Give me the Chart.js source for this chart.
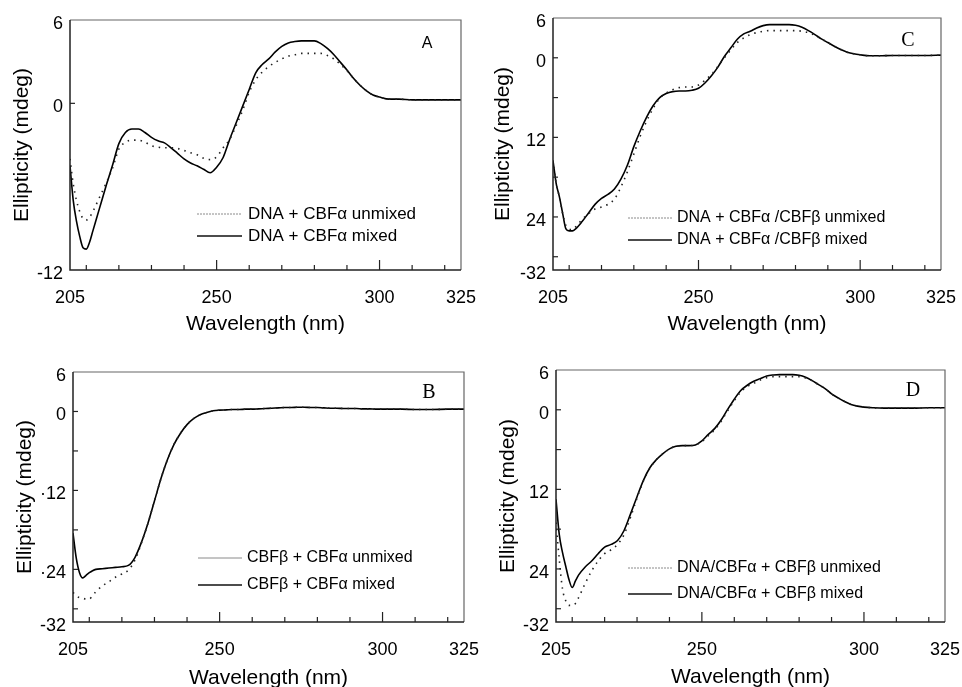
<!DOCTYPE html>
<html><head><meta charset="utf-8">
<script src="https://cdn.jsdelivr.net/npm/chart.js@4.4.1/dist/chart.umd.min.js"></script>
<style>
html,body{margin:0;padding:0;background:#fff;overflow:hidden;width:962px;height:687px;}
canvas.p{position:absolute;}
</style></head><body>
<canvas id="cA" class="p" width="481" height="340" style="left:0;top:0"></canvas>
<canvas id="cC" class="p" width="481" height="340" style="left:481px;top:0"></canvas>
<canvas id="cB" class="p" width="481" height="360" style="left:0;top:340px"></canvas>
<canvas id="cD" class="p" width="481" height="360" style="left:481px;top:340px"></canvas>
<script>
// ---- data ----
const wavelengths = [205,206,207,208,209,210,211,212,214,216,218,220,222,224,226,228,230,232,234,236,238,240,242,244,246,248,250,252,254,256,258,260,262,264,266,268,270,272,274,276,278,280,282,284,286,288,290,292,294,296,298,300,303,306,310,315,320,325];

const aMixed   = [-4.5,-7.0,-8.5,-9.6,-10.4,-10.5,-10.0,-9.2,-7.6,-6.0,-4.5,-2.9,-2.1,-1.85,-1.85,-2.1,-2.45,-2.7,-2.85,-3.2,-3.6,-4.0,-4.3,-4.5,-4.75,-5.0,-4.6,-3.9,-2.6,-1.4,-0.2,1.0,2.2,2.8,3.2,3.7,4.1,4.35,4.45,4.5,4.5,4.5,4.3,3.95,3.5,2.95,2.4,1.8,1.3,0.9,0.6,0.45,0.3,0.3,0.25,0.25,0.25,0.25];
const aUnmixed = [-4.0,-5.8,-7.0,-7.8,-8.3,-8.4,-8.2,-7.8,-6.8,-5.8,-4.7,-3.3,-2.8,-2.65,-2.65,-2.8,-3.05,-3.15,-3.2,-3.2,-3.25,-3.4,-3.55,-3.7,-3.95,-4.05,-3.85,-3.2,-2.6,-1.6,-0.5,0.8,1.7,2.25,2.65,2.95,3.2,3.4,3.5,3.6,3.6,3.6,3.6,3.45,3.2,2.8,2.35,1.8,1.3,0.9,0.6,0.45,0.3,0.3,0.25,0.25,0.25,0.25];

const bMixed   = [-18.5,-22.3,-24.5,-25.3,-24.9,-24.5,-24.2,-24.0,-23.9,-23.8,-23.7,-23.6,-23.4,-22.2,-19.9,-17.0,-13.6,-10.2,-7.3,-5.0,-3.3,-2.0,-1.1,-0.5,-0.15,0.1,0.2,0.25,0.3,0.3,0.35,0.35,0.4,0.45,0.5,0.55,0.6,0.6,0.65,0.65,0.6,0.6,0.55,0.5,0.5,0.45,0.45,0.45,0.4,0.4,0.35,0.35,0.35,0.35,0.3,0.3,0.35,0.35];
const bUnmixed = [-27.5,-28.0,-28.3,-28.4,-28.5,-28.5,-28.0,-27.4,-26.5,-25.9,-25.2,-24.7,-24.1,-22.6,-20.0,-17.0,-13.6,-10.2,-7.3,-5.0,-3.3,-2.0,-1.1,-0.5,-0.15,0.1,0.2,0.25,0.3,0.3,0.35,0.35,0.4,0.45,0.5,0.55,0.6,0.6,0.65,0.65,0.6,0.6,0.55,0.5,0.5,0.45,0.45,0.45,0.4,0.4,0.35,0.35,0.35,0.35,0.3,0.3,0.35,0.35];

const cMixed   = [-15.5,-19.0,-21.0,-23.5,-25.8,-26.1,-26.1,-25.8,-24.7,-23.4,-22.1,-21.2,-20.6,-19.8,-18.3,-16.2,-13.4,-11.0,-8.9,-7.2,-6.0,-5.4,-5.1,-5.0,-5.0,-4.9,-4.6,-3.8,-2.7,-1.4,0.2,1.5,2.8,3.6,4.0,4.5,4.85,5.0,5.0,5.0,5.0,4.9,4.6,4.1,3.5,2.85,2.3,1.75,1.25,0.85,0.6,0.45,0.3,0.3,0.35,0.35,0.35,0.4];
const cUnmixed = [-15.5,-19.0,-21.0,-23.5,-25.3,-25.8,-25.9,-25.5,-24.4,-23.5,-22.8,-22.5,-22.1,-21.3,-19.5,-17.2,-14.5,-11.8,-9.5,-7.6,-6.1,-5.3,-4.8,-4.5,-4.4,-4.4,-4.1,-3.4,-2.5,-1.3,0.0,1.2,2.3,3.0,3.5,3.8,4.0,4.1,4.1,4.1,4.1,4.1,4.0,3.8,3.4,2.85,2.3,1.75,1.25,0.85,0.6,0.45,0.3,0.3,0.35,0.35,0.35,0.4];

const dMixed   = [-13.5,-18.8,-21.5,-23.6,-25.6,-26.8,-25.8,-24.9,-23.7,-22.8,-21.7,-20.7,-20.3,-19.7,-18.2,-15.7,-13.1,-10.6,-8.7,-7.5,-6.6,-5.9,-5.5,-5.4,-5.4,-5.3,-4.7,-3.7,-2.8,-1.5,0.1,1.6,2.9,3.7,4.3,4.7,5.1,5.25,5.3,5.3,5.3,5.2,4.9,4.4,3.8,3.2,2.4,1.8,1.25,0.8,0.55,0.4,0.3,0.25,0.25,0.25,0.3,0.3];
const dUnmixed = [-17.0,-22.5,-27.0,-28.8,-29.5,-29.5,-29.2,-28.3,-26.2,-24.3,-22.8,-21.7,-21.1,-20.3,-18.8,-16.2,-13.3,-10.7,-8.8,-7.5,-6.6,-5.9,-5.5,-5.4,-5.4,-5.3,-4.8,-3.9,-3.0,-1.7,-0.1,1.4,2.7,3.5,4.0,4.5,4.85,5.0,5.0,5.0,5.0,5.0,4.8,4.4,3.8,3.2,2.4,1.8,1.25,0.8,0.55,0.4,0.3,0.25,0.25,0.25,0.3,0.3];

// ---- ticks ----
const xTickLabels = [205,250,300,325];
const xTickMarks  = [210,220,230,240,250,260,270,280,290,300,310,320];
const xMajorMarks = [250,300];
const yTicksA  = [6,0,-12];
const yLabelsA = ['6','0','-12'];
const yMarksA  = [0];
const yTicksBCD  = [6,0,-12,-24,-32];
const yLabelsB   = ['6','0','·12','·24','-32'];
const yLabelsCD  = ['6','0','12','24','-32'];
const yMarksBCD  = [0,-6,-12,-18,-24,-30];

// ---- legends ----
const legendA = ['DNA + CBFα unmixed','DNA + CBFα mixed'];
const legendB = ['CBFβ + CBFα unmixed','CBFβ + CBFα mixed'];
const legendC = ['DNA + CBFα /CBFβ unmixed','DNA + CBFα /CBFβ mixed'];
const legendD = ['DNA/CBFα + CBFβ unmixed','DNA/CBFα + CBFβ mixed'];

const SANS = "'Liberation Sans', Arial, sans-serif";
const SERIF = "'Liberation Serif', 'Times New Roman', serif";
Chart.defaults.color = '#000';
Chart.defaults.font.family = SANS;

const panelPlugin = {
  id: 'panel',
  afterDatasetsDraw(chart, args, o) {
    const {ctx, chartArea: a, scales: {x, y}} = chart;
    const seg = (x1,y1,x2,y2) => { ctx.beginPath(); ctx.moveTo(x1,y1); ctx.lineTo(x2,y2); ctx.stroke(); };
    ctx.save();
    ctx.setLineDash([]);
    // frame
    ctx.strokeStyle = '#666'; ctx.lineWidth = 1.2;
    ctx.beginPath(); ctx.moveTo(a.left, a.top); ctx.lineTo(a.right, a.top); ctx.lineTo(a.right, a.bottom); ctx.stroke();
    ctx.strokeStyle = '#222'; ctx.lineWidth = 1.5;
    ctx.beginPath(); ctx.moveTo(a.left, a.top); ctx.lineTo(a.left, a.bottom); ctx.lineTo(a.right, a.bottom); ctx.stroke();
    // inward tick marks
    ctx.lineWidth = 1.2;
    xTickMarks.forEach(v => {
      const px = x.getPixelForValue(v);
      seg(px, a.bottom, px, a.bottom - (xMajorMarks.includes(v) ? 10 : 5));
    });
    o.yMarks.forEach(v => {
      const py = y.getPixelForValue(v);
      seg(a.left, py, a.left + 5, py);
    });
    // legend
    const L = o.legend;
    ctx.font = L.size + 'px ' + SANS;
    ctx.textBaseline = 'middle'; ctx.textAlign = 'left';
    L.items.forEach((txt, i) => {
      const yy = L.ys[i];
      if (i === 0) { ctx.strokeStyle = '#8a8a8a'; ctx.lineWidth = 1; ctx.setLineDash(o.sampleDash); }
      else { ctx.strokeStyle = '#111'; ctx.lineWidth = 1.6; ctx.setLineDash([]); }
      seg(L.x1, yy, L.x2, yy);
      ctx.fillStyle = '#000';
      ctx.fillText(txt, L.tx, yy);
    });
    ctx.setLineDash([]);
    // panel letter
    ctx.font = o.letterFont;
    ctx.textAlign = 'center';
    ctx.fillText(o.letter, o.letterX, o.letterY);
    ctx.restore();
  }
};

function makePanel(id, mixed, unmixed, lay, yTicks, yLabels, yMarks, ymin, legend, letter) {
  const pts = arr => wavelengths.map((w, i) => ({x: w, y: arr[i]}));
  new Chart(document.getElementById(id), {
    type: 'line',
    data: { datasets: [
      { label: legend[0], data: pts(unmixed), borderColor: '#222', borderWidth: 1.6,
        borderDash: [1.5, 5], pointRadius: 0, cubicInterpolationMode: 'monotone' },
      { label: legend[1], data: pts(mixed), borderColor: '#000', borderWidth: 1.6,
        pointRadius: 0, cubicInterpolationMode: 'monotone' }
    ]},
    options: {
      responsive: false, animation: false, devicePixelRatio: 1,
      layout: { padding: { left: 0, top: lay.top, right: lay.right, bottom: 0 } },
      plugins: {
        legend: { display: false }, tooltip: { enabled: false },
        panel: {
          yMarks, letter: letter.t, letterFont: letter.f, letterX: letter.x, letterY: letter.y,
          sampleDash: lay.sampleDash,
          legend: { items: legend, x1: lay.lx1, x2: lay.lx2, tx: lay.tx, ys: lay.ly, size: lay.ls }
        }
      },
      scales: {
        x: {
          type: 'linear', min: 205, max: 325,
          afterBuildTicks: s => { s.ticks = xTickLabels.map(v => ({value: v})); },
          afterFit: s => { s.height = lay.xh; s.paddingLeft = 0; s.paddingRight = 0; },
          grid: { display: false, drawTicks: false }, border: { display: false },
          ticks: { autoSkip: false, maxRotation: 0, padding: 17, font: { size: 18 }, color: '#000',
                   callback: v => String(v) },
          title: { display: true, text: 'Wavelength (nm)', font: { size: 21 }, color: '#000',
                   padding: { top: 0, bottom: lay.xtp } }
        },
        y: {
          type: 'linear', min: ymin, max: 6,
          afterBuildTicks: s => { s.ticks = yTicks.map(v => ({value: v})); },
          afterFit: s => { s.width = lay.yw; s.paddingTop = 0; s.paddingBottom = 0; },
          grid: { display: false, drawTicks: false }, border: { display: false },
          ticks: { autoSkip: false, padding: 7, labelOffset: 4, font: { size: 18 }, color: '#000',
                   callback: v => { const k = yTicks.indexOf(v); return k >= 0 ? yLabels[k] : ''; } },
          title: { display: true, text: 'Ellipticity (mdeg)', font: { size: 21 }, color: '#000',
                   padding: { top: lay.ytp, bottom: 0 } }
        }
      }
    },
    plugins: [panelPlugin]
  });
}

makePanel('cA', aMixed, aUnmixed,
  {top: 20, right: 20, yw: 70, xh: 70, ytp: 10, xtp: 3.4, lx1: 197, lx2: 242, tx: 248, ly: [214, 236], ls: 17, sampleDash: [2, 1]},
  yTicksA, yLabelsA, yMarksA, -12, legendA, {t: 'A', f: '16px ' + SANS, x: 427, y: 44});
makePanel('cC', cMixed, cUnmixed,
  {top: 18, right: 21, yw: 72, xh: 70, ytp: 10, xtp: 3.4, lx1: 147, lx2: 191, tx: 196, ly: [218, 240], ls: 16, sampleDash: [2, 1]},
  yTicksBCD, yLabelsCD, yMarksBCD, -32, legendC, {t: 'C', f: '20px ' + SERIF, x: 427, y: 41});
makePanel('cB', bMixed, bUnmixed,
  {top: 32, right: 17, yw: 73, xh: 78, ytp: 13, xtp: 9, lx1: 198, lx2: 242, tx: 247, ly: [218, 245], ls: 16, sampleDash: []},
  yTicksBCD, yLabelsB, yMarksBCD, -32, legendB, {t: 'B', f: '20px ' + SERIF, x: 429, y: 53});
makePanel('cD', dMixed, dUnmixed,
  {top: 30, right: 17, yw: 75, xh: 78, ytp: 15, xtp: 10, lx1: 147, lx2: 191, tx: 196, ly: [228, 254], ls: 16, sampleDash: [2, 1]},
  yTicksBCD, yLabelsCD, yMarksBCD, -32, legendD, {t: 'D', f: '20px ' + SERIF, x: 432, y: 51});
</script>
</body></html>
